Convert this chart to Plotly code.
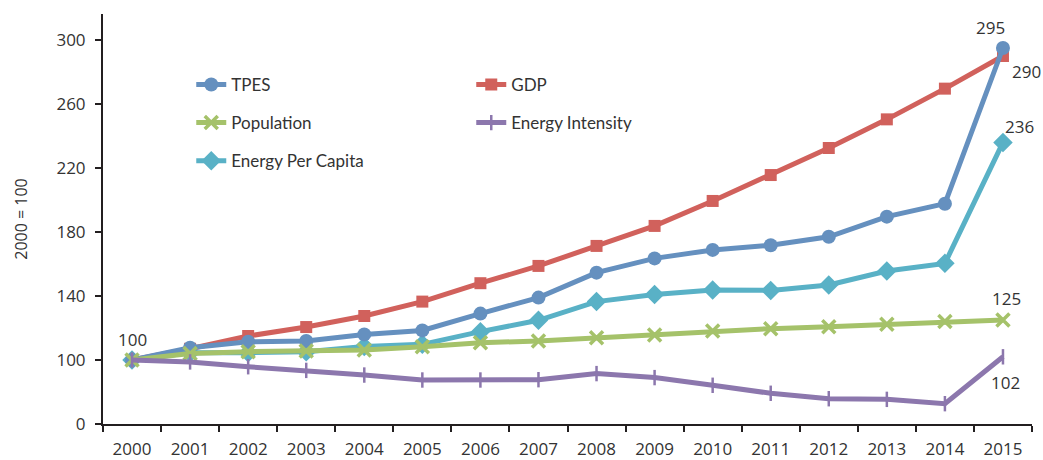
import plotly.graph_objects as go

years = [str(y) for y in range(2000, 2016)]
tpes = [100, 107.7, 111.4, 111.9, 116, 118.5, 129, 139, 154.6, 163.5, 168.8, 171.7, 177, 189.6, 197.7, 295]
gdp = [100, 107, 115, 120.6, 127.5, 136.5, 148, 158.8, 171.3, 183.8, 199.4, 215.6, 232.5, 250.4, 269.6, 290]
population = [100, 104, 105.2, 105.6, 106.3, 108.3, 110.8, 111.9, 113.9, 115.6, 118.1, 119.6, 120.8, 122.3, 124, 125]
intensity = [100, 98.8, 95.8, 93.5, 90.6, 87.5, 87.5, 87.7, 91.5, 89, 84.2, 79.2, 75.8, 75.4, 72.7, 102]
per_capita = [100, 104.5, 104.6, 105.2, 108.5, 109.8, 117.7, 124.8, 136.5, 141, 143.8, 143.5, 146.9, 155.6, 160.4, 236]

tick_vals = [60, 100, 140, 180, 220, 260, 300]
tick_text = ["0", "100", "140", "180", "220", "260", "300"]

C_TPES = "#6590BF"
C_GDP = "#D1615C"
C_POP = "#A5C26A"
C_INT = "#8C77AD"
C_EPC = "#59B1C6"

fig = go.Figure()
fig.add_trace(go.Scatter(x=years, y=gdp, name="GDP", mode="lines+markers", legend="legend",
                         legendrank=2, line=dict(color=C_GDP, width=5),
                         marker=dict(symbol="square", size=12, color=C_GDP)))
fig.add_trace(go.Scatter(x=years, y=per_capita, name="Energy Per Capita", mode="lines+markers",
                         legend="legend3", line=dict(color=C_EPC, width=5),
                         marker=dict(symbol="diamond", size=15, color=C_EPC)))
fig.add_trace(go.Scatter(x=years, y=tpes, name="TPES", mode="lines+markers", legend="legend",
                         legendrank=1, line=dict(color=C_TPES, width=5),
                         marker=dict(symbol="circle", size=14, color=C_TPES)))
fig.add_trace(go.Scatter(x=years, y=population, name="Population", mode="lines+markers",
                         legend="legend2", legendrank=1, line=dict(color=C_POP, width=5),
                         marker=dict(symbol="x-thin", size=13, color=C_POP,
                                     line=dict(color=C_POP, width=3.5))))
fig.add_trace(go.Scatter(x=years, y=intensity, name="Energy Intensity", mode="lines+markers",
                         legend="legend2", legendrank=2, line=dict(color=C_INT, width=5),
                         marker=dict(symbol="line-ns", size=11, color=C_INT,
                                     line=dict(color=C_INT, width=2.5))))

label_font = dict(family="Open Sans, Noto Sans, sans-serif", size=17, color="#333333")
last = len(years) - 1
labels = [
    (0, 100, "100", 0, 21),
    (last, tpes[-1], "295", -12, 21),
    (last, gdp[-1], "290", 24, -15),
    (last, per_capita[-1], "236", 17, 16),
    (last, population[-1], "125", 4, 22),
    (last, intensity[-1], "102", 3, -26),
]
for x, y, t, xs, ys in labels:
    fig.add_annotation(x=x, y=y, xref="x", yref="y", text=t, showarrow=False,
                       xshift=xs, yshift=ys, font=label_font)

leg_common = dict(orientation="h", xanchor="left", yanchor="middle",
                  entrywidth=235, entrywidthmode="pixels", traceorder="normal",
                  font=dict(family="Lato, sans-serif", size=17, color="#333333"),
                  bgcolor="rgba(0,0,0,0)")
fig.update_layout(
    width=1043, height=460,
    margin=dict(l=103, r=11, t=14, b=36, autoexpand=False),
    paper_bgcolor="white", plot_bgcolor="white",
    font=dict(family="Open Sans, Noto Sans, sans-serif", size=17, color="#333333"),
    legend=dict(x=0.095, y=0.827, **leg_common),
    legend2=dict(x=0.095, y=0.734, **leg_common),
    legend3=dict(x=0.095, y=0.641, **leg_common),
    showlegend=True,
)

fig.update_xaxes(type="category", range=[-0.5, 15.5], showline=True, linecolor="#231F20",
                 linewidth=2, ticks="outside", tickson="boundaries", ticklen=6,
                 tickwidth=2, tickcolor="#231F20", showgrid=False, zeroline=False,
                 ticklabelstandoff=9, automargin=False,
                 tickfont=dict(size=17, color="#333333"))
fig.update_yaxes(range=[60, 316.25], tickvals=tick_vals, ticktext=tick_text,
                 showline=True, linecolor="#231F20", linewidth=2, ticks="outside",
                 ticklen=6, tickwidth=2, tickcolor="#231F20", showgrid=False,
                 zeroline=False, ticklabelstandoff=6, automargin=False,
                 tickfont=dict(size=17, color="#333333"),
                 title=dict(text="2000 = 100", font=dict(size=16, color="#333333"),
                            standoff=25))

fig.write_html("out.html")
